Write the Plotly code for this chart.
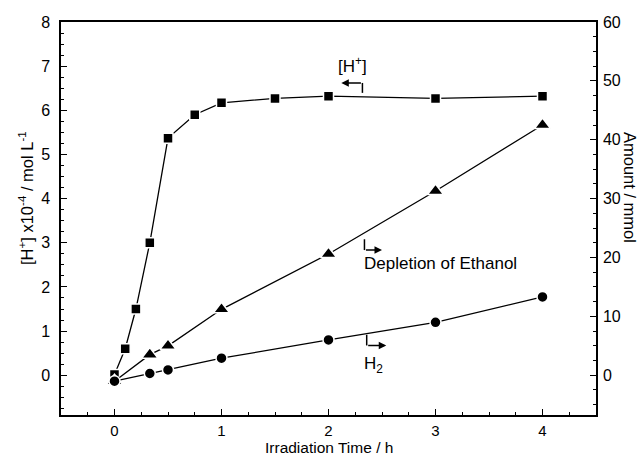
import plotly.graph_objects as go

# Data
time_h = [0, 0.1, 0.2, 0.33, 0.5, 0.75, 1, 1.5, 2, 3, 4]
h_plus = [0.02, 0.6, 1.5, 3.0, 5.37, 5.9, 6.17, 6.27, 6.32, 6.27, 6.32]  # x10^-4 mol/L

time_amt = [0, 0.33, 0.5, 1, 2, 3, 4]
ethanol_depletion = [-1.0, 3.5, 5.0, 11.2, 20.6, 31.3, 42.5]  # mmol
h2_amount = [-1.0, 0.3, 0.9, 2.9, 6.0, 9.0, 13.3]  # mmol

x_ticks = [0, 1, 2, 3, 4]
left_ticks = [0, 1, 2, 3, 4, 5, 6, 7, 8]
right_ticks = [0, 10, 20, 30, 40, 50, 60]

FONT = "Liberation Sans, Arial, sans-serif"
BLACK = "#000000"

fig = go.Figure()

fig.add_trace(go.Scatter(
    x=time_h, y=h_plus, mode="lines+markers", yaxis="y",
    line=dict(color=BLACK, width=1.3),
    marker=dict(symbol="square", size=10, color=BLACK, line=dict(color="white", width=1.5)),
    showlegend=False))
fig.add_trace(go.Scatter(
    x=time_amt, y=ethanol_depletion, mode="lines+markers", yaxis="y2",
    line=dict(color=BLACK, width=1.3),
    marker=dict(symbol="triangle-up", size=14, color=BLACK, line=dict(color="white", width=1.5)),
    showlegend=False))
fig.add_trace(go.Scatter(
    x=time_amt, y=h2_amount, mode="lines+markers", yaxis="y2",
    line=dict(color=BLACK, width=1.3),
    marker=dict(symbol="circle", size=11, color=BLACK, line=dict(color="white", width=1.5)),
    showlegend=False))

L, R, T, B = 61, 46, 22, 42
W, H = 642, 457
pw, ph = W - L - R, H - T - B

def px(xp):
    return (xp - L) / pw

def py(yp):
    return (H - B - yp) / ph

axis_common = dict(
    showline=True, linecolor=BLACK, linewidth=1.5, ticks="inside", ticklen=6,
    tickwidth=1.3, tickcolor=BLACK, showgrid=False, zeroline=False,
    tickfont=dict(family=FONT, size=16, color=BLACK),
)

fig.update_layout(
    width=W, height=H,
    margin=dict(l=L, r=R, t=T, b=B, pad=0),
    paper_bgcolor="white", plot_bgcolor="white",
    xaxis=dict(range=[-0.5, 4.5], tickvals=x_ticks, mirror=True, ticklabelstandoff=1,
               minor=dict(dtick=0.25, ticks="inside", ticklen=3, tickcolor=BLACK, tickwidth=1.2),
               **{**axis_common, "tickfont": dict(family=FONT, size=15, color=BLACK)}),
    yaxis=dict(range=[-0.9, 8], tickvals=left_ticks, ticklabelstandoff=6,
               minor=dict(dtick=0.25, ticks="inside", ticklen=3, tickcolor=BLACK, tickwidth=1.2),
               **axis_common),
    yaxis2=dict(range=[-6.75, 60], tickvals=right_ticks, overlaying="y", side="right",
                ticklabelstandoff=2,
                minor=dict(dtick=2.5, ticks="inside", ticklen=3, tickcolor=BLACK, tickwidth=1.2),
                **axis_common),
)

ann_font = dict(family=FONT, size=17, color=BLACK)
title_font = dict(family=FONT, size=16.5, color=BLACK)
annotations = [
    # axis titles
    dict(text="Irradiation Time / h", x=px(329), y=py(447), xref="paper", yref="paper",
         xanchor="center", yanchor="middle", showarrow=False,
         font=dict(family=FONT, size=15.5, color=BLACK)),
    dict(text="[H<sup>+</sup>] x10<sup>-4</sup> / mol L<sup>-1</sup>", x=px(26), y=py(198),
         xref="paper", yref="paper", xanchor="center", yanchor="middle",
         showarrow=False, textangle=-90, font=title_font),
    dict(text="Amount / mmol", x=px(630), y=py(187), xref="paper", yref="paper",
         xanchor="center", yanchor="middle", showarrow=False, textangle=90, font=title_font),
    # series labels
    dict(text="[H<sup>+</sup>]", x=2.223, y=7.03, xref="x", yref="y", xanchor="center",
         yanchor="middle", showarrow=False, font=ann_font),
    dict(text="Depletion of Ethanol", x=2.317, y=2.52, xref="x", yref="y", showarrow=False,
         xanchor="left", yanchor="middle", font=ann_font),
    dict(text="H<sub>2</sub>", x=2.42, y=0.24, xref="x", yref="y", xanchor="center",
         yanchor="middle", showarrow=False, font=ann_font),
    # arrows (horizontal parts)
    dict(x=2.12, y=6.62, ax=2.317, ay=6.62, xref="x", yref="y", axref="x", ayref="y",
         showarrow=True, arrowhead=2, arrowsize=1, arrowwidth=1.5, arrowcolor=BLACK, text=""),
    dict(x=2.50, y=2.835, ax=2.336, ay=2.835, xref="x", yref="y", axref="x", ayref="y",
         showarrow=True, arrowhead=2, arrowsize=1, arrowwidth=1.5, arrowcolor=BLACK, text=""),
    dict(x=2.54, y=0.675, ax=2.357, ay=0.675, xref="x", yref="y", axref="x", ayref="y",
         showarrow=True, arrowhead=2, arrowsize=1, arrowwidth=1.5, arrowcolor=BLACK, text=""),
]
fig.update_layout(annotations=annotations)

shapes = [
    dict(type="line", x0=2.317, x1=2.317, y0=6.395, y1=6.62, xref="x", yref="y",
         line=dict(color=BLACK, width=1.5)),
    dict(type="line", x0=2.336, x1=2.336, y0=3.08, y1=2.835, xref="x", yref="y",
         line=dict(color=BLACK, width=1.5)),
    dict(type="line", x0=2.357, x1=2.357, y0=0.916, y1=0.675, xref="x", yref="y",
         line=dict(color=BLACK, width=1.5)),
]
fig.update_layout(shapes=shapes)

fig.write_html("out.html")
